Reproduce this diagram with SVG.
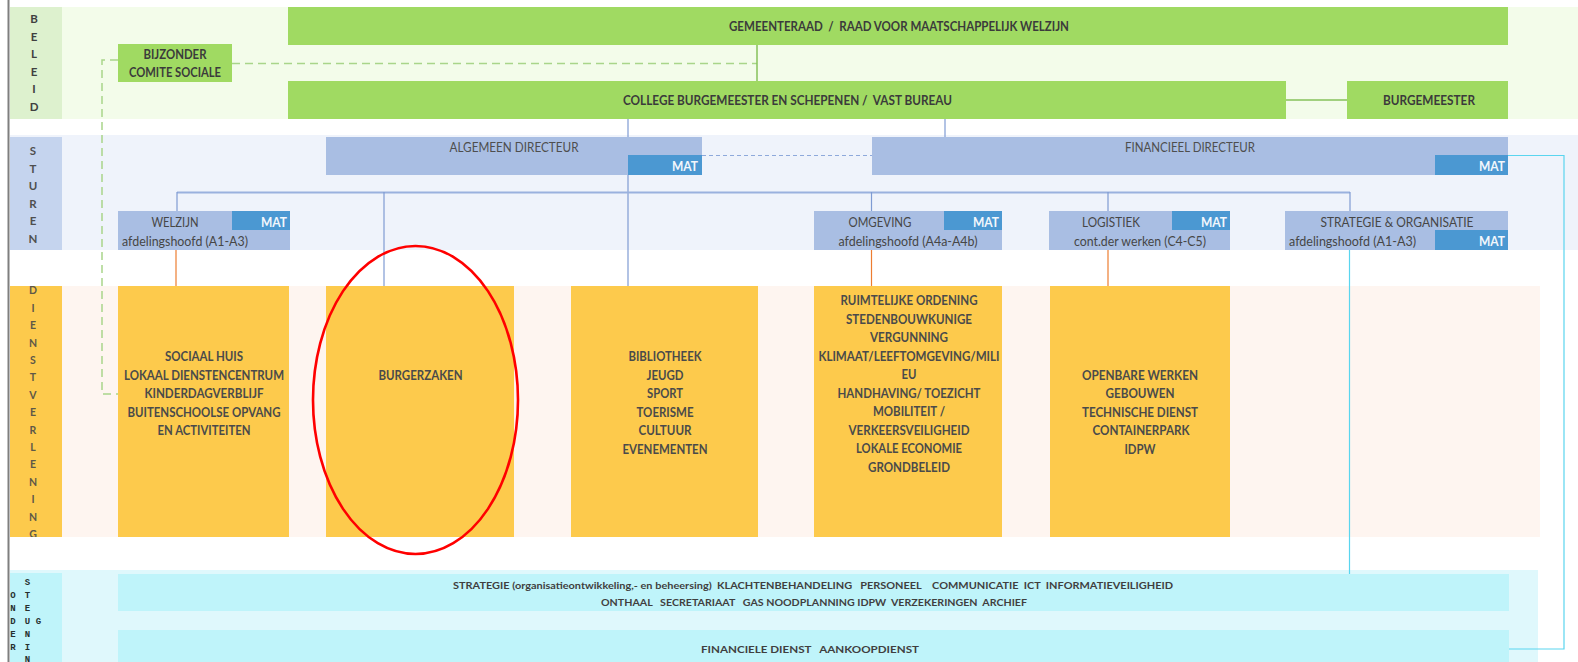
<svg xmlns="http://www.w3.org/2000/svg" width="1578" height="662" viewBox="0 0 1578 662">
  <style>
    text { font-family: Lato, "Liberation Sans", sans-serif; }
    .band-beleid { fill: #F3FCEA; }
    .lab-beleid { fill: #DDF1CE; }
    .band-sturen { fill: #EFF3FB; }
    .lab-sturen { fill: #C5D4EE; }
    .band-dienst { fill: #FEF5F0; }
    .lab-dienst { fill: #FDCA4C; }
    .band-onder { fill: #DFF8FC; }
    .lab-onder { fill: #BFF4FA; }
    .green { fill: #A0DA62; }
    .blue { fill: #A9BEE3; }
    .mat { fill: #4B98D2; }
    .yellow { fill: #FDCA4C; }
    .cyan { fill: #BFF4FA; }
    .t-green { font-size: 13px; font-weight: bold; fill: #3B3B3B; text-anchor: middle; }
    .t-dir { font-size: 13px; fill: #4E4E4E; text-anchor: middle; }
    .t-dept { font-size: 13px; fill: #464646; }
    .t-mat { font-size: 13px; font-weight: bold; fill: #F2F7FC; text-anchor: end; }
    .t-yel { font-size: 13.5px; font-weight: bold; fill: #4A4A4A; text-anchor: middle; }
    .t-cyan { font-size: 9.5px; font-weight: bold; fill: #3F3F3F; text-anchor: middle; }
    .lbl-b { font-size: 11.5px; font-weight: bold; fill: #404040; text-anchor: middle; }
    .lbl-s { font-size: 11.5px; font-weight: bold; fill: #4F4F4F; text-anchor: middle; }
    .lbl-d { font-size: 10.5px; font-weight: bold; fill: #5E5848; text-anchor: middle; }
    .lbl-o { font-family: "Liberation Mono", "DejaVu Sans Mono", monospace; font-size: 9px; font-weight: bold; fill: #26302F; text-anchor: middle; }
    .c-green-dash { fill: none; stroke: #A9D58A; stroke-width: 1.5; stroke-dasharray: 8 5; }
    .c-green { fill: none; stroke: #86C25A; stroke-width: 1.5; }
    .c-blue { fill: none; stroke: #7F9BD3; stroke-width: 1.2; }
    .c-blue-h { fill: none; stroke: #9AB1DE; stroke-width: 2; }
    .c-blue-dash { fill: none; stroke: #8EA9DB; stroke-width: 1.2; stroke-dasharray: 4 3; }
    .c-orange { fill: none; stroke: #ED7D31; stroke-width: 1.2; }
    .c-cyan { fill: none; stroke: #5AD5EF; stroke-width: 1.2; }
  </style>
  <defs>
    <clipPath id="clip-dienst"><rect x="10" y="286" width="52" height="251"/></clipPath>
    <clipPath id="clip-onder"><rect x="10" y="573" width="52" height="89"/></clipPath>
  </defs>

  <rect width="1578" height="662" fill="#FFFFFF"/>

  <!-- layer bands -->
  <g id="bands">
    <rect class="band-beleid" x="10" y="7" width="1568" height="112"/>
    <rect class="lab-beleid" x="10" y="7" width="52" height="112"/>
    <rect class="band-sturen" x="10" y="135" width="1568" height="115"/>
    <rect class="lab-sturen" x="10" y="137" width="52" height="113"/>
    <rect class="band-dienst" x="10" y="286" width="1530" height="251"/>
    <rect class="lab-dienst" x="10" y="286" width="52" height="251"/>
    <rect class="band-onder" x="10" y="570" width="1528" height="92"/>
    <rect class="lab-onder" x="10" y="573" width="52" height="89"/>
    <line x1="8.5" y1="0" x2="8.5" y2="662" stroke="#7F7F7F" stroke-width="2"/>
  </g>

  <!-- layer labels -->
  <g id="label-beleid">
    <text class="lbl-b" x="34" y="23">B</text>
    <text class="lbl-b" x="34" y="40.7">E</text>
    <text class="lbl-b" x="34" y="58.3">L</text>
    <text class="lbl-b" x="34" y="76">E</text>
    <text class="lbl-b" x="34" y="93.3">I</text>
    <text class="lbl-b" x="34" y="110.7">D</text>
  </g>
  <g id="label-sturen">
    <text class="lbl-s" x="33" y="155">S</text>
    <text class="lbl-s" x="33" y="172.5">T</text>
    <text class="lbl-s" x="33" y="190">U</text>
    <text class="lbl-s" x="33" y="207.5">R</text>
    <text class="lbl-s" x="33" y="225">E</text>
    <text class="lbl-s" x="33" y="242.5">N</text>
  </g>
  <g id="label-dienstverlening" clip-path="url(#clip-dienst)">
    <text class="lbl-d" x="33" y="294.3">D</text>
    <text class="lbl-d" x="33" y="311.7">I</text>
    <text class="lbl-d" x="33" y="329.1">E</text>
    <text class="lbl-d" x="33" y="346.5">N</text>
    <text class="lbl-d" x="33" y="363.9">S</text>
    <text class="lbl-d" x="33" y="381.3">T</text>
    <text class="lbl-d" x="33" y="398.7">V</text>
    <text class="lbl-d" x="33" y="416.1">E</text>
    <text class="lbl-d" x="33" y="433.5">R</text>
    <text class="lbl-d" x="33" y="450.9">L</text>
    <text class="lbl-d" x="33" y="468.3">E</text>
    <text class="lbl-d" x="33" y="485.7">N</text>
    <text class="lbl-d" x="33" y="503.1">I</text>
    <text class="lbl-d" x="33" y="520.5">N</text>
    <text class="lbl-d" x="33" y="537.9">G</text>
  </g>
  <g id="label-ondersteuning" clip-path="url(#clip-onder)">
    <text class="lbl-o" x="13" y="597.5">O</text>
    <text class="lbl-o" x="13" y="610.5">N</text>
    <text class="lbl-o" x="13" y="623.5">D</text>
    <text class="lbl-o" x="13" y="636.5">E</text>
    <text class="lbl-o" x="13" y="649.5">R</text>
    <text class="lbl-o" x="27.5" y="584.5">S</text>
    <text class="lbl-o" x="27.5" y="597.5">T</text>
    <text class="lbl-o" x="27.5" y="610.5">E</text>
    <text class="lbl-o" x="27.5" y="623.5">U</text>
    <text class="lbl-o" x="27.5" y="636.5">N</text>
    <text class="lbl-o" x="27.5" y="649.5">I</text>
    <text class="lbl-o" x="27.5" y="661.5">N</text>
    <text class="lbl-o" x="38.5" y="623.5">G</text>
  </g>

  <!-- connectors -->
  <g id="connectors">
    <path class="c-green-dash" d="M232 63.5 H757"/>
    <path class="c-green-dash" d="M118 60 H102 V394 H118"/>
    <path class="c-green" d="M757 45 V81"/>
    <path class="c-green" d="M1286 100 H1347"/>
    <path class="c-blue" d="M628 119 V291"/>
    <path class="c-blue" d="M945 119 V137"/>
    <path class="c-blue-dash" d="M702 155.5 H872"/>
    <path class="c-blue-h" d="M177 192.5 H1350"/>
    <path class="c-blue" d="M177 192 V211"/>
    <path class="c-blue" d="M384 192 V290"/>
    <path class="c-blue" d="M871.5 192 V211"/>
    <path class="c-blue" d="M1108 192 V211"/>
    <path class="c-blue" d="M1350 192 V211"/>
    <path class="c-orange" d="M176 250 V286"/>
    <path class="c-orange" d="M871.5 250 V286"/>
    <path class="c-orange" d="M1108 250 V286"/>
    <path class="c-cyan" d="M1349.5 250 V574"/>
    <path class="c-cyan" d="M1508 155.5 H1564 V649 H1509"/>
  </g>

  <!-- beleid -->
  <g id="gemeenteraad">
    <rect class="green" x="288" y="7" width="1220" height="38"/>
    <text class="t-green" x="899" y="30.5" textLength="340" lengthAdjust="spacingAndGlyphs" xml:space="preserve">GEMEENTERAAD  /  RAAD VOOR MAATSCHAPPELIJK WELZIJN</text>
  </g>
  <g id="bijzonder-comite">
    <rect class="green" x="118" y="44" width="114" height="38"/>
    <text class="t-green" x="175" y="58.5" textLength="63" lengthAdjust="spacingAndGlyphs">BIJZONDER</text>
    <text class="t-green" x="175" y="77" textLength="92" lengthAdjust="spacingAndGlyphs">COMITE SOCIALE</text>
  </g>
  <g id="college">
    <rect class="green" x="288" y="81" width="998" height="38"/>
    <text class="t-green" x="787.5" y="104.5" textLength="329" lengthAdjust="spacingAndGlyphs" xml:space="preserve">COLLEGE BURGEMEESTER EN SCHEPENEN /  VAST BUREAU</text>
  </g>
  <g id="burgemeester">
    <rect class="green" x="1347" y="81" width="161" height="38"/>
    <text class="t-green" x="1429" y="104.5" textLength="92" lengthAdjust="spacingAndGlyphs">BURGEMEESTER</text>
  </g>

  <!-- sturen -->
  <g id="algemeen-directeur">
    <rect class="blue" x="326" y="137" width="376" height="38"/>
    <rect class="mat" x="628" y="155" width="74" height="20"/>
    <text class="t-dir" x="514" y="151.5" textLength="129" lengthAdjust="spacingAndGlyphs">ALGEMEEN DIRECTEUR</text>
    <text class="t-mat" x="698" y="170.5" textLength="26" lengthAdjust="spacingAndGlyphs">MAT</text>
  </g>
  <g id="financieel-directeur">
    <rect class="blue" x="872" y="137" width="636" height="38"/>
    <rect class="mat" x="1435" y="155" width="73" height="20"/>
    <text class="t-dir" x="1190" y="151.5" textLength="130" lengthAdjust="spacingAndGlyphs">FINANCIEEL DIRECTEUR</text>
    <text class="t-mat" x="1505" y="170.5" textLength="26" lengthAdjust="spacingAndGlyphs">MAT</text>
  </g>
  <g id="welzijn">
    <rect class="blue" x="118" y="211" width="172" height="39"/>
    <rect class="mat" x="232" y="211" width="58" height="19"/>
    <text class="t-dept" x="175" y="227" text-anchor="middle" textLength="47" lengthAdjust="spacingAndGlyphs">WELZIJN</text>
    <text class="t-mat" x="287" y="227" textLength="26" lengthAdjust="spacingAndGlyphs">MAT</text>
    <text class="t-dept" x="122" y="245.5" textLength="126" lengthAdjust="spacingAndGlyphs">afdelingshoofd (A1-A3)</text>
  </g>
  <g id="omgeving">
    <rect class="blue" x="814" y="211" width="188" height="39"/>
    <rect class="mat" x="944" y="211" width="58" height="19"/>
    <text class="t-dept" x="880" y="227" text-anchor="middle" textLength="63" lengthAdjust="spacingAndGlyphs">OMGEVING</text>
    <text class="t-mat" x="999" y="227" textLength="26" lengthAdjust="spacingAndGlyphs">MAT</text>
    <text class="t-dept" x="908" y="245.5" text-anchor="middle" textLength="139" lengthAdjust="spacingAndGlyphs">afdelingshoofd (A4a-A4b)</text>
  </g>
  <g id="logistiek">
    <rect class="blue" x="1049" y="211" width="181" height="39"/>
    <rect class="mat" x="1172" y="211" width="58" height="19"/>
    <text class="t-dept" x="1111" y="227" text-anchor="middle" textLength="58" lengthAdjust="spacingAndGlyphs">LOGISTIEK</text>
    <text class="t-mat" x="1227" y="227" textLength="26" lengthAdjust="spacingAndGlyphs">MAT</text>
    <text class="t-dept" x="1140" y="245.5" text-anchor="middle" textLength="132" lengthAdjust="spacingAndGlyphs">cont.der werken (C4-C5)</text>
  </g>
  <g id="strategie-organisatie">
    <rect class="blue" x="1285" y="211" width="223" height="39"/>
    <rect class="mat" x="1435" y="230" width="73" height="20"/>
    <text class="t-dept" x="1397" y="227" text-anchor="middle" textLength="153" lengthAdjust="spacingAndGlyphs">STRATEGIE &amp; ORGANISATIE</text>
    <text class="t-dept" x="1289" y="245.5" textLength="127" lengthAdjust="spacingAndGlyphs">afdelingshoofd (A1-A3)</text>
    <text class="t-mat" x="1505" y="245.5" textLength="26" lengthAdjust="spacingAndGlyphs">MAT</text>
  </g>

  <!-- dienstverlening -->
  <g id="dienst-welzijn">
    <rect class="yellow" x="118" y="286" width="171" height="251"/>
    <text class="t-yel" x="204" y="361" textLength="78" lengthAdjust="spacingAndGlyphs">SOCIAAL HUIS</text>
    <text class="t-yel" x="204" y="379.5" textLength="160" lengthAdjust="spacingAndGlyphs">LOKAAL DIENSTENCENTRUM</text>
    <text class="t-yel" x="204" y="398" textLength="119" lengthAdjust="spacingAndGlyphs">KINDERDAGVERBLIJF</text>
    <text class="t-yel" x="204" y="416.5" textLength="153" lengthAdjust="spacingAndGlyphs">BUITENSCHOOLSE OPVANG</text>
    <text class="t-yel" x="204" y="435" textLength="93" lengthAdjust="spacingAndGlyphs">EN ACTIVITEITEN</text>
  </g>
  <g id="dienst-burgerzaken">
    <rect class="yellow" x="326" y="286" width="188" height="251"/>
    <text class="t-yel" x="420.5" y="379.5" textLength="84" lengthAdjust="spacingAndGlyphs">BURGERZAKEN</text>
  </g>
  <g id="dienst-vrije-tijd">
    <rect class="yellow" x="571" y="286" width="187" height="251"/>
    <text class="t-yel" x="665" y="361" textLength="73" lengthAdjust="spacingAndGlyphs">BIBLIOTHEEK</text>
    <text class="t-yel" x="665" y="379.5" textLength="37" lengthAdjust="spacingAndGlyphs">JEUGD</text>
    <text class="t-yel" x="665" y="398" textLength="36" lengthAdjust="spacingAndGlyphs">SPORT</text>
    <text class="t-yel" x="665" y="416.5" textLength="57" lengthAdjust="spacingAndGlyphs">TOERISME</text>
    <text class="t-yel" x="665" y="435" textLength="53" lengthAdjust="spacingAndGlyphs">CULTUUR</text>
    <text class="t-yel" x="665" y="453.5" textLength="85" lengthAdjust="spacingAndGlyphs">EVENEMENTEN</text>
  </g>
  <g id="dienst-omgeving">
    <rect class="yellow" x="814" y="286" width="188" height="251"/>
    <text class="t-yel" x="909" y="305" textLength="137" lengthAdjust="spacingAndGlyphs">RUIMTELIJKE ORDENING</text>
    <text class="t-yel" x="909" y="323.5" textLength="126" lengthAdjust="spacingAndGlyphs">STEDENBOUWKUNIGE</text>
    <text class="t-yel" x="909" y="342" textLength="78" lengthAdjust="spacingAndGlyphs">VERGUNNING</text>
    <text class="t-yel" x="909" y="360.5" textLength="181" lengthAdjust="spacingAndGlyphs">KLIMAAT/LEEFTOMGEVING/MILI</text>
    <text class="t-yel" x="909" y="379" textLength="15" lengthAdjust="spacingAndGlyphs">EU</text>
    <text class="t-yel" x="909" y="397.5" textLength="143" lengthAdjust="spacingAndGlyphs">HANDHAVING/ TOEZICHT</text>
    <text class="t-yel" x="909" y="416" textLength="72" lengthAdjust="spacingAndGlyphs">MOBILITEIT /</text>
    <text class="t-yel" x="909" y="434.5" textLength="121" lengthAdjust="spacingAndGlyphs">VERKEERSVEILIGHEID</text>
    <text class="t-yel" x="909" y="453" textLength="106" lengthAdjust="spacingAndGlyphs">LOKALE ECONOMIE</text>
    <text class="t-yel" x="909" y="471.5" textLength="82" lengthAdjust="spacingAndGlyphs">GRONDBELEID</text>
  </g>
  <g id="dienst-logistiek">
    <rect class="yellow" x="1050" y="286" width="180" height="251"/>
    <text class="t-yel" x="1140" y="379.5" textLength="116" lengthAdjust="spacingAndGlyphs">OPENBARE WERKEN</text>
    <text class="t-yel" x="1140" y="398" textLength="69" lengthAdjust="spacingAndGlyphs">GEBOUWEN</text>
    <text class="t-yel" x="1140" y="416.5" textLength="116" lengthAdjust="spacingAndGlyphs">TECHNISCHE DIENST</text>
    <text class="t-yel" x="1141" y="435" textLength="97" lengthAdjust="spacingAndGlyphs">CONTAINERPARK</text>
    <text class="t-yel" x="1140" y="453.5" textLength="31" lengthAdjust="spacingAndGlyphs">IDPW</text>
  </g>

  <!-- ondersteuning -->
  <g id="ondersteuning-strategie">
    <rect class="cyan" x="118" y="574" width="1391" height="37"/>
    <text class="t-cyan" x="813" y="589" textLength="720" lengthAdjust="spacingAndGlyphs" xml:space="preserve">STRATEGIE (organisatieontwikkeling,- en beheersing)  KLACHTENBEHANDELING   PERSONEEL    COMMUNICATIE  ICT  INFORMATIEVEILIGHEID</text>
    <text class="t-cyan" x="814" y="605.5" textLength="426" lengthAdjust="spacingAndGlyphs" xml:space="preserve">ONTHAAL   SECRETARIAAT   GAS NOODPLANNING IDPW  VERZEKERINGEN  ARCHIEF</text>
  </g>
  <g id="ondersteuning-financien">
    <rect class="cyan" x="118" y="630" width="1391" height="32"/>
    <text class="t-cyan" x="810" y="652.5" textLength="218" lengthAdjust="spacingAndGlyphs" xml:space="preserve">FINANCIELE DIENST   AANKOOPDIENST</text>
  </g>

  <!-- highlight -->
  <ellipse cx="415.5" cy="400" rx="102.5" ry="154" fill="none" stroke="#FF0000" stroke-width="2.6"/>
</svg>
